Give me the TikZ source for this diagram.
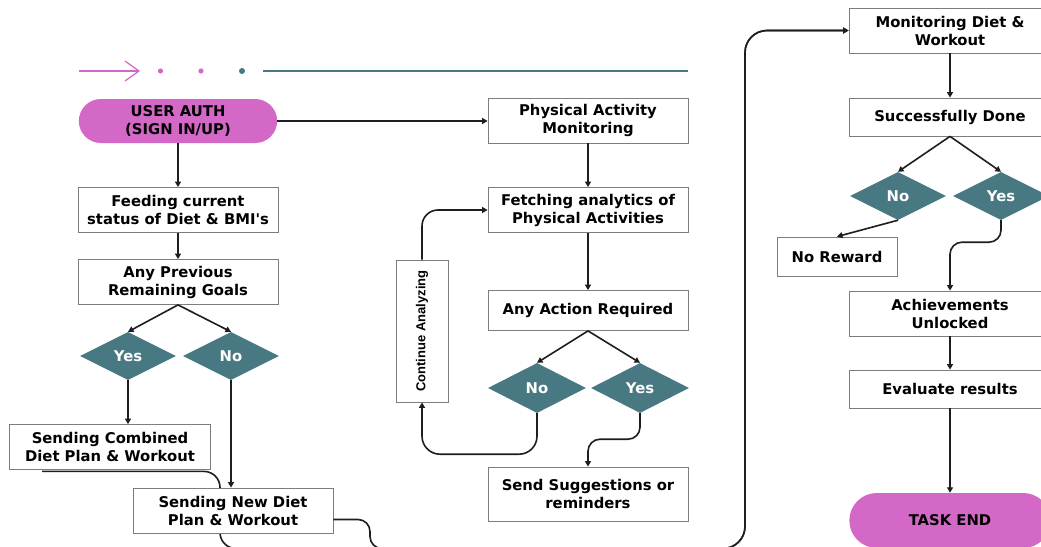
\documentclass[tikz,border=0pt]{standalone}
\usepackage{fontspec}
\usepackage{graphicx}
\setmainfont{DejaVu Sans}
\newfontfamily\narrowfont{Liberation Sans}
\usetikzlibrary{shapes.geometric,shapes.misc,arrows.meta,backgrounds,calc}
\pgfdeclarelayer{bottom}
\pgfsetlayers{bottom,background,main}
\definecolor{pinkc}{RGB}{212,104,199}
\definecolor{tealc}{RGB}{72,121,130}
\definecolor{edgec}{RGB}{125,125,125}
\definecolor{linec}{RGB}{30,30,30}
\begin{document}
\begin{tikzpicture}[x=1pt,y=-1pt,
  txt/.style={font=\bfseries\fontsize{14.8}{18}\selectfont},
  box/.style={txt, draw=edgec, line width=0.8pt, fill=white, minimum width=200pt,
    minimum height=45pt, inner sep=2pt, align=center},
  pill/.style={txt, rounded rectangle, fill=pinkc, minimum width=205pt,
    minimum height=44pt, align=center},
  dia/.style={txt, diamond, aspect=2, fill=tealc, text=white, inner sep=0pt,
    minimum width=96pt, minimum height=48pt},
  conn/.style={draw=linec, line width=1.6pt, -{Triangle[length=5.5pt,width=6pt]}}
]
\useasboundingbox (0,0) rectangle (1041,546);
\begin{pgfonlayer}{bottom}
\fill[white] (0,0) rectangle (1041,546);
\end{pgfonlayer}

% top decoration
\draw[pinkc, line width=1.2pt, -{Straight Barb[length=14pt,width=20pt]}] (79,71) -- (140,71);
\fill[pinkc] (160.5,71) circle (2.6);
\fill[pinkc] (201,71) circle (2.6);
\fill[tealc] (242,71) circle (3);
\draw[tealc, line width=1.4pt] (263,71) -- (688,71);

% left column
\node[pill] (auth) at (178,121) {USER AUTH\\(SIGN IN/UP)};
\node[box] (feed) at (178,210) {Feeding current\\status of Diet \& BMI\textquotesingle s};
\node[box] (prev) at (178,282) {Any Previous\\Remaining Goals};
\node[dia] (yes1) at (128,356) {Yes};
\node[dia] (no1) at (231,356) {No};
\node[box, minimum width=201pt] (comb) at (110,447) {Sending Combined\\Diet Plan \& Workout};
\node[box] (newd) at (233,510.5) {Sending New Diet\\Plan \& Workout};

% middle column
\node[box] (phys) at (588,120.5) {Physical Activity\\Monitoring};
\node[box] (fetch) at (588,210) {Fetching analytics of\\Physical Activities};
\node[box, minimum height=40pt] (act) at (588,310.5) {Any Action Required};
\node[dia, minimum width=98pt, minimum height=50pt] (no2) at (537,388) {No};
\node[dia, minimum width=98pt, minimum height=50pt] (yes2) at (640,388) {Yes};
\node[box, minimum height=54pt] (sugg) at (588,494) {Send Suggestions or\\reminders};
\node[box, minimum width=52pt, minimum height=142pt, inner sep=0pt] (cont) at (422,331)
  {\rotatebox{90}{\narrowfont\bfseries\fontsize{13}{15}\selectfont Continue Analyzing}};

% right column
\node[box, minimum width=202pt] (mon) at (950,30.5) {Monitoring Diet \&\\Workout};
\node[box, minimum width=202pt, minimum height=38pt] (succ) at (950,117) {Successfully Done};
\node[dia] (no3) at (898,196) {No};
\node[dia] (yes3) at (1001,196) {Yes};
\node[box, minimum width=120pt, minimum height=39pt] (norew) at (837,256.5) {No Reward};
\node[box, minimum width=202pt] (ach) at (950,313.5) {Achievements\\Unlocked};
\node[box, minimum width=202pt, minimum height=38pt] (eval) at (950,389) {Evaluate results};
\node[pill, minimum width=208pt, minimum height=55pt] (end) at (950,520.5) {TASK END};

% connectors
\draw[conn] (auth.south) -- (feed.north);
\draw[conn] (feed.south) -- (prev.north);
\draw[conn] (prev.south) -- (yes1.north);
\draw[conn] (prev.south) -- (no1.north);
\draw[conn] (yes1.south) -- (yes1.south |- comb.north);
\draw[conn] (no1.south) -- (no1.south |- newd.north);
\draw[conn] (auth.east) -- (auth.east -| phys.west);
\draw[conn] (phys.south) -- (fetch.north);
\draw[conn] (fetch.south) -- (act.north);
\draw[conn] (act.south) -- (no2.north);
\draw[conn] (act.south) -- (yes2.north);
\draw[conn, rounded corners=12pt] (yes2.south) -- ++(0,26) -| (sugg.north);
\draw[conn, rounded corners=18pt] (no2.south) -- ++(0,41) -| (cont.south);
\draw[conn, rounded corners=16pt] (cont.north) |- (fetch.west);
\draw[conn] (mon.south) -- (succ.north);
\draw[conn] (succ.south) -- (no3.north);
\draw[conn] (succ.south) -- (yes3.north);
\draw[conn] (no3.south) -- (norew.north);
\draw[conn, rounded corners=12pt] (yes3.south) -- ++(0,22) -| (ach.north);
\draw[conn] (ach.south) -- (eval.north);
\draw[conn] (eval.south) -- (end.north);

% long routes along the bottom
\begin{pgfonlayer}{background}
\draw[conn, rounded corners=16pt] ([shift={(33pt,-1.5pt)}]comb.south west) -| (220,548.5)
  [rounded corners=22pt] -- (745,548.5) |- (mon.west);
\end{pgfonlayer}
\draw[conn, rounded corners=12pt] ([yshift=-9pt]newd.east) -| (370,548.5)
  [rounded corners=22pt] -- (745,548.5) |- (mon.west);
\end{tikzpicture}
\end{document}
